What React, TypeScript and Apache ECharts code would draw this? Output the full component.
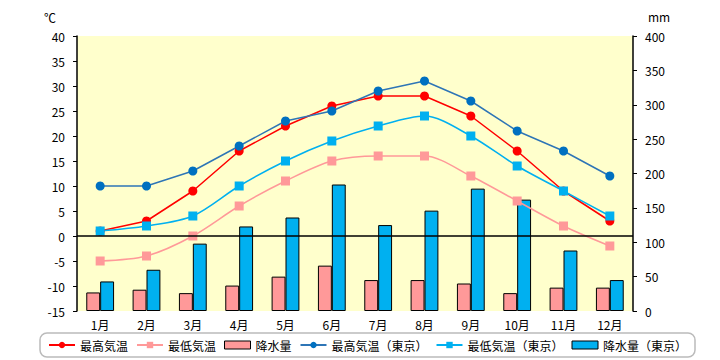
import React, { useEffect, useRef } from "react";
import * as echarts from "echarts";

const months = ["1月", "2月", "3月", "4月", "5月", "6月", "7月", "8月", "9月", "10月", "11月", "12月"];
const maxTemp = [1, 3, 9, 17, 22, 26, 28, 28, 24, 17, 9, 3];
const minTemp = [-5, -4, 0, 6, 11, 15, 16, 16, 12, 7, 2, -2];
const precip = [27, 31, 26, 37, 50, 66, 45, 45, 40, 26, 34, 34];
const maxTempTokyo = [10, 10, 13, 18, 23, 25, 29, 31, 27, 21, 17, 12];
const minTempTokyo = [1, 2, 4, 10, 15, 19, 22, 24, 20, 14, 9, 4];
const precipTokyo = [43, 60, 98, 123, 136, 184, 125, 146, 178, 162, 88, 45];

const FONT = "'Noto Sans CJK JP', sans-serif";

export default function App() {
  const ref = useRef<HTMLDivElement>(null);
  useEffect(() => {
    if (!ref.current) return;
    const chart = echarts.init(ref.current, null, { renderer: "svg" });
    chart.setOption({
      animation: false,
      textStyle: { fontFamily: FONT },
      grid: { left: 77, right: 87, top: 36, bottom: 49, show: true, backgroundColor: "#FFFFCC", borderWidth: 0 },
      graphic: [
        { type: "text", left: 44, top: 11, style: { text: "℃", fontSize: 12, fontFamily: FONT, fill: "#000" } },
        { type: "text", left: 648, top: 10, style: { text: "mm", fontSize: 12, fontFamily: FONT, fill: "#000" } },
      ],
      legend: {
        left: 40,
        top: 333,
        width: 660,
        padding: [6, 8, 6, 8],
        borderColor: "#bbb",
        borderWidth: 1.5,
        borderRadius: 7,
        itemWidth: 26,
        itemHeight: 8,
        itemGap: 8,
        textStyle: { fontSize: 12, color: "#000", fontFamily: FONT },
        data: [
          { name: "最高気温" },
          { name: "最低気温" },
          { name: "降水量", icon: "rect", itemStyle: { borderWidth: 1 } },
          { name: "最高気温（東京）" },
          { name: "最低気温（東京）" },
          { name: "降水量（東京）", icon: "rect", itemStyle: { borderWidth: 1 } },
        ],
      },
      xAxis: {
        type: "category",
        data: months,
        axisLine: { show: false },
        axisTick: { show: false },
        axisLabel: { color: "#000", fontSize: 12, margin: 7 },
      },
      yAxis: [
        {
          type: "value",
          min: -15,
          max: 40,
          interval: 5,
          position: "left",
          splitLine: { show: false },
          axisLine: { show: true, lineStyle: { color: "#000", width: 1.5 } },
          axisTick: { show: true, length: 4, lineStyle: { color: "#000" } },
          axisLabel: { color: "#000", fontSize: 12, margin: 12 },
        },
        {
          type: "value",
          min: 0,
          max: 400,
          interval: 50,
          position: "right",
          splitLine: { show: false },
          axisLine: { show: true, lineStyle: { color: "#000", width: 1.5 } },
          axisTick: { show: true, length: 4, lineStyle: { color: "#000" } },
          axisLabel: { color: "#000", fontSize: 12, margin: 12 },
        },
      ],
      series: [
        {
          name: "降水量",
          type: "bar",
          yAxisIndex: 1,
          data: precip,
          barGap: "0%",
          barCategoryGap: "40%",
          itemStyle: { color: "#FF9999", borderColor: "#000", borderWidth: 1 },
        },
        {
          name: "降水量（東京）",
          type: "bar",
          yAxisIndex: 1,
          data: precipTokyo,
          barGap: "0%",
          barCategoryGap: "40%",
          itemStyle: { color: "#00B0F0", borderColor: "#000", borderWidth: 1 },
        },
        {
          name: "最高気温",
          type: "line",
          data: maxTemp,
          symbol: "circle",
          symbolSize: 9,
          itemStyle: { color: "#FF0000" },
          lineStyle: { color: "#FF0000", width: 1.5 },
          markLine: {
            silent: true,
            symbol: "none",
            label: { show: false },
            lineStyle: { color: "#000", width: 1.5, type: "solid" },
            data: [{ yAxis: 0 }],
          },
        },
        {
          name: "最低気温",
          type: "line",
          data: minTemp,
          smooth: 0.3,
          symbol: "rect",
          symbolSize: 9,
          itemStyle: { color: "#FF9999" },
          lineStyle: { color: "#FF9999", width: 1.5 },
        },
        {
          name: "最高気温（東京）",
          type: "line",
          data: maxTempTokyo,
          symbol: "circle",
          symbolSize: 9,
          itemStyle: { color: "#0070C0" },
          lineStyle: { color: "#2E75B6", width: 1.5 },
        },
        {
          name: "最低気温（東京）",
          type: "line",
          data: minTempTokyo,
          smooth: 0.3,
          symbol: "rect",
          symbolSize: 9,
          itemStyle: { color: "#00B0F0" },
          lineStyle: { color: "#00B0F0", width: 1.5 },
        },
      ],
    });
    return () => chart.dispose();
  }, []);
  return <div ref={ref} style={{ width: 720, height: 360, position: "absolute", left: 0, top: 0 }} />;
}
